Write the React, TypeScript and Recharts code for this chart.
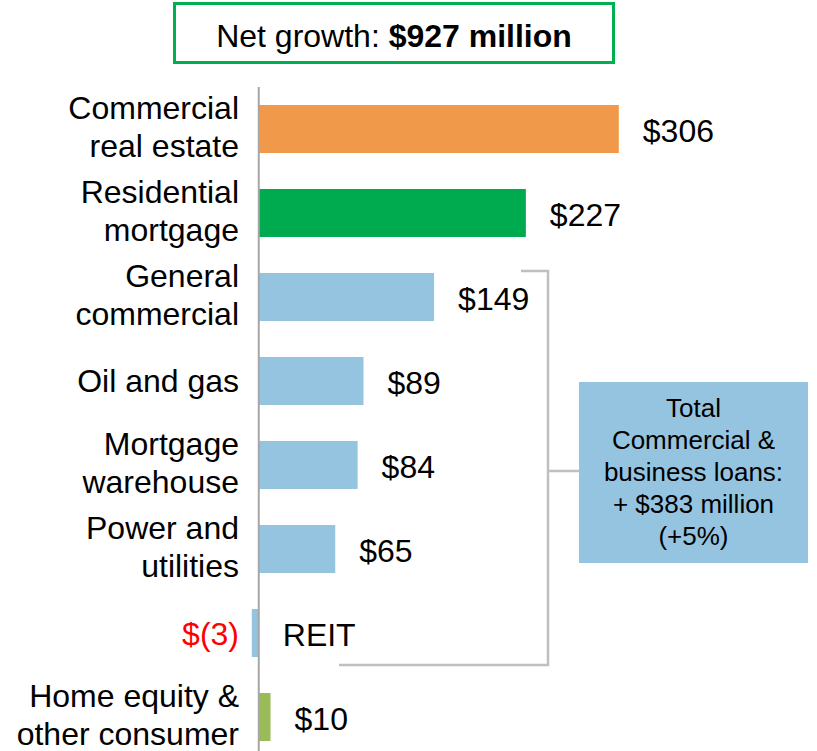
import React from "react";
import { BarChart, Bar, XAxis, YAxis, Cell, LabelList, ReferenceLine } from "recharts";

const categories = [
  "Commercial real estate",
  "Residential mortgage",
  "General commercial",
  "Oil and gas",
  "Mortgage warehouse",
  "Power and utilities",
  "REIT",
  "Home equity & other consumer",
];
const categoryLines = [
  ["Commercial", "real estate"],
  ["Residential", "mortgage"],
  ["General", "commercial"],
  ["Oil and gas"],
  ["Mortgage", "warehouse"],
  ["Power and", "utilities"],
  ["REIT"],
  ["Home equity &", "other consumer"],
];
const values = [306, 227, 149, 89, 84, 65, -3, 10];
const barColors = ["#F0994A", "#00AA4F", "#95C4E0", "#95C4E0", "#95C4E0", "#95C4E0", "#95C4E0", "#9BBB59"];
const titleNormal = "Net growth: ";
const titleBold = "$927 million";
const boxLines = ["Total", "Commercial &", "business loans:", "+ $383 million", "(+5%)"];

const data = categories.map((name, i) => ({ name, value: values[i], lines: categoryLines[i], color: barColors[i] }));

const FONT = "'Liberation Sans', Arial, sans-serif";
const FS = 32;
const fmt = (v: number) => (v < 0 ? `$(${-v})` : `$${v}`);

const YTick = (props: any) => {
  const { x, y, payload } = props;
  const idx = categories.indexOf(payload.value);
  const d = data[idx];
  if (!d) return null;
  if (d.value < 0) {
    return (
      <text x={x} y={y} dy={12} textAnchor="end" fontFamily={FONT} fontSize={FS} fill="#FF0000">
        {fmt(d.value)}
      </text>
    );
  }
  const n = d.lines.length;
  return (
    <g>
      {d.lines.map((l: string, k: number) => (
        <text
          key={k}
          x={x}
          y={y + (k - (n - 1) / 2) * 37.5}
          dy={n > 1 ? 9 : 11}
          textAnchor="end"
          fontFamily={FONT}
          fontSize={FS}
          fill="#000"
        >
          {l}
        </text>
      ))}
    </g>
  );
};

const BarShape = (props: any) => {
  const { x, y, width, height, fill, payload } = props;
  let left = Math.min(x, x + width);
  let right = Math.max(x, x + width);
  if (payload && payload.value < 0 && right - left < 7) left = right - 7;
  return <rect x={left} y={y} width={right - left} height={height} fill={fill} />;
};

const ValueLabel = (props: any) => {
  const { x, y, width, height, index } = props;
  const d = data[index];
  if (!d) return null;
  const right = Math.max(x, x + width);
  const cy = y + height / 2;
  const txt = d.value < 0 ? d.name : fmt(d.value);
  return (
    <text x={right + 24} y={cy} dy={13} textAnchor="start" fontFamily={FONT} fontSize={FS} fill="#000">
      {txt}
    </text>
  );
};

export default function App() {
  return (
    <div style={{ position: "absolute", left: 0, top: 0, width: 817, height: 759 }}>
      <BarChart
        width={817}
        height={759}
        data={data}
        layout="vertical"
        margin={{ top: 87, right: 17, bottom: 0, left: 0 }}
        barSize={48}
      >
        <XAxis type="number" hide domain={[-10, 460]} />
        <YAxis
          type="category"
          dataKey="name"
          width={247}
          axisLine={false}
          tickLine={false}
          tickSize={0}
          tickMargin={8}
          interval={0}
          tick={<YTick />}
        />
        <Bar dataKey="value" isAnimationActive={false} shape={<BarShape />}>
          {data.map((d, i) => (
            <Cell key={i} fill={d.color} />
          ))}
          <LabelList dataKey="value" content={<ValueLabel />} />
        </Bar>
        <ReferenceLine x={0} stroke="#A6A6A6" strokeWidth={2} ifOverflow="visible" />
      </BarChart>
      <svg
        width={817}
        height={751}
        style={{ position: "absolute", left: 0, top: 0, pointerEvents: "none" }}
      >
        <rect x={174.5} y={3.5} width={439} height={59} fill="#fff" stroke="#00B050" strokeWidth={3} />
        <text x={394} y={47} textAnchor="middle" fontFamily={FONT} fontSize={FS} fill="#000">
          {titleNormal}
          <tspan fontWeight="bold">{titleBold}</tspan>
        </text>
        <polyline
          points="521,271 548,271 548,665 339,665"
          fill="none"
          stroke="#BFBFBF"
          strokeWidth={2.5}
        />
        <line x1={548} y1={471} x2={579} y2={471} stroke="#BFBFBF" strokeWidth={2.5} />
        <rect x={579} y={382} width={229} height={181} fill="#95C4E0" />
        {boxLines.map((l, k) => (
          <text key={k} x={693.5} y={417 + k * 32} textAnchor="middle" fontFamily={FONT} fontSize={26} fill="#000">
            {l}
          </text>
        ))}
      </svg>
    </div>
  );
}
